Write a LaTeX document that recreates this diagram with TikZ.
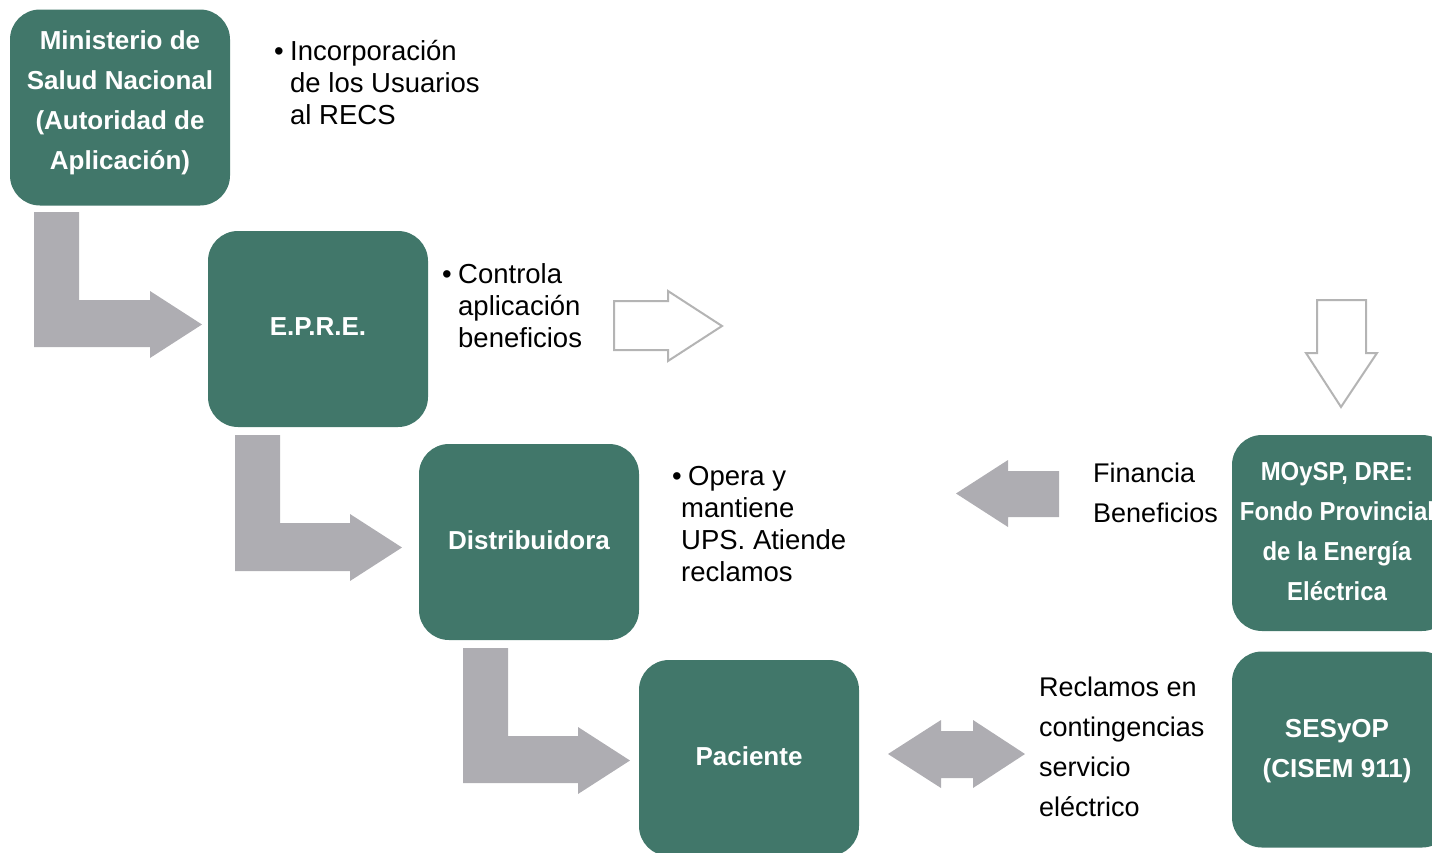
\documentclass[tikz,border=0pt]{standalone}
\usepackage{fontspec}
\setmainfont{Liberation Sans}
\usetikzlibrary{calc}
\definecolor{boxgreen}{HTML}{41776A}
\definecolor{arrgray}{HTML}{AEADB2}
\definecolor{outgray}{HTML}{B4B4B4}
\newcommand\tl[1]{\vtop{\halign{##\hfil\cr#1\crcr}}}
\newcommand\bul{\makebox[16pt][l]{•}}
\begin{document}
\begin{tikzpicture}[x=1pt,y=-1pt,
 box/.style={rectangle, rounded corners=30pt, fill=boxgreen, minimum width=220pt, minimum height=196pt, inner sep=0pt},
 boxtext/.style={text=white, align=center, inner sep=0pt, font=\fontsize{26}{40}\selectfont\bfseries},
 body/.style={anchor=base west, inner sep=0pt, font=\fontsize{27.5}{32}\selectfont},
 bodywide/.style={anchor=base west, inner sep=0pt, font=\fontsize{27}{40}\selectfont},
 blockarrow/.style={fill=arrgray},
 outarrow/.style={draw=outgray, line width=2pt, fill=white, line join=miter}]
\useasboundingbox (0,0) rectangle (1432,852);

% boxes
\node[box] (min) at (120,107.5) {};
\node[boxtext] (minT) at (120,103) {Ministerio de\\Salud Nacional\\(Autoridad de\\Aplicación)};
\node[box] (epre) at (318,329) {};
\node[boxtext] (epreT) at (318,327) {E.P.R.E.};
\node[box] (dist) at (529,542) {};
\node[boxtext] (distT) at (529,540) {Distribuidora};
\node[box] (pac) at (749,758) {};
\node[boxtext] (pacT) at (749,756) {Paciente};
\node[box] (moy) at (1342,533) {};
\node[boxtext, font=\fontsize{26}{40}\selectfont\bfseries\addfontfeatures{FakeStretch=0.92}] (moyT) at (1337,532) {MOySP, DRE:\\Fondo Provincial\\de la Energía\\Eléctrica};
\node[box] (ses) at (1342,749.5) {};
\node[boxtext] (sesT) at (1337,751) {SESyOP\\(CISEM 911)};

% L-shaped block arrows
\path[blockarrow] (34,212) -- (79,212) -- (79,300) -- (150,300) -- (150,291) -- (202,324.5) -- (150,358) -- (150,347) -- (34,347) -- cycle;
\path[blockarrow] (235,435) -- (280,435) -- (280,523) -- (350,523) -- (350,514) -- (402,547.5) -- (350,581) -- (350,571) -- (235,571) -- cycle;
\path[blockarrow] (463,648) -- (508,648) -- (508,736) -- (578,736) -- (578,727) -- (630,760.5) -- (578,794) -- (578,783) -- (463,783) -- cycle;

% outline arrows
\draw[outarrow] (614,301) -- (668,301) -- (668,291) -- (722,326) -- (668,361) -- (668,350) -- (614,350) -- cycle;
\draw[outarrow] (1317,300) -- (1366,300) -- (1366,353) -- (1377,353) -- (1341,407) -- (1306,353) -- (1317,353) -- cycle;

% left arrow and double arrow
\path[blockarrow] (1059,471) -- (1008,471) -- (1008,460) -- (956,493.5) -- (1008,527) -- (1008,517) -- (1059,517) -- cycle;
\path[blockarrow] (888,754) -- (941,720) -- (941,731) -- (973,731) -- (973,720) -- (1025,754) -- (973,788) -- (973,778) -- (941,778) -- (941,788) -- cycle;

% texts
\node[body] (t1) at (274,60) {\tl{\bul Incorporación\cr\hspace*{16pt}de los Usuarios\cr\hspace*{16pt}al RECS}};
\node[body] (t2) at (442,283) {\tl{\bul Controla\cr\hspace*{16pt}aplicación\cr\hspace*{16pt}beneficios}};
\node[body] (t3) at (672,485) {\tl{\bul Opera y\cr\hspace*{9pt}mantiene\cr\hspace*{9pt}UPS. Atiende\cr\hspace*{9pt}reclamos}};
\node[bodywide] (t4) at (1093,482) {\tl{Financia\cr Beneficios}};
\node[bodywide] (t5) at (1039,696) {\tl{Reclamos en\cr contingencias\cr servicio\cr eléctrico}};
\end{tikzpicture}
\end{document}
